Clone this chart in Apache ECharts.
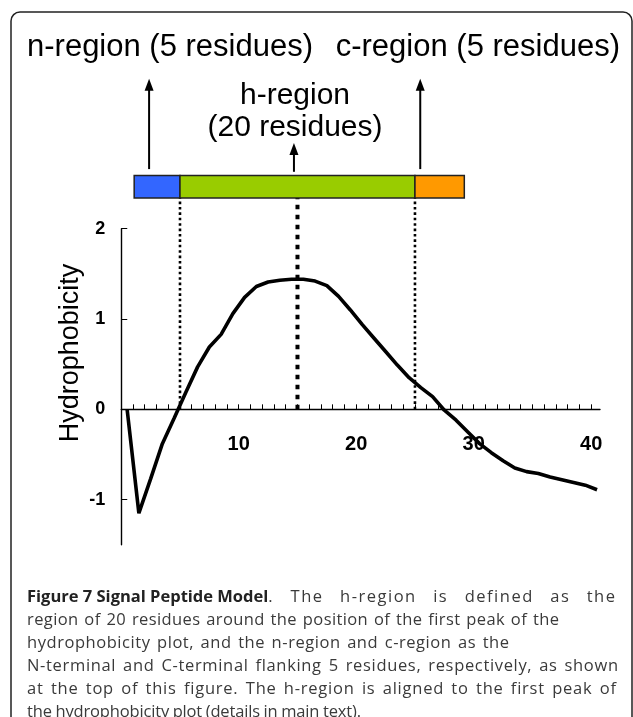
<!DOCTYPE html>
<html><head><meta charset="utf-8">
<script src="https://cdn.jsdelivr.net/npm/echarts@6/dist/echarts.min.js"></script>
<style>html,body{margin:0;padding:0;background:#fff}#c{width:633px;height:717px}</style>
</head><body><div id="c"></div>
<script>
// ---- data ----
const residuePos = [0.5,1.5,2.5,3.5,4.5,5.5,6.5,7.5,8.5,9.5,10.5,11.5,12.5,13.5,14.5,15.5,16.5,17.5,18.5,19.5,20.5,21.5,22.5,23.5,24.5,25.5,26.5,27.5,28.5,29.5,30.5,31.5,32.5,33.5,34.5,35.5,36.5,37.5,38.5,39.5,40.5];
const hydrophobicity = [0.00,-1.15,-0.77,-0.38,-0.10,0.19,0.47,0.69,0.83,1.06,1.24,1.36,1.41,1.43,1.44,1.44,1.42,1.37,1.25,1.10,0.94,0.79,0.64,0.49,0.35,0.24,0.14,-0.01,-0.12,-0.25,-0.38,-0.48,-0.57,-0.65,-0.69,-0.71,-0.75,-0.78,-0.81,-0.84,-0.89];
const xTickValues = [1,2,3,4,5,6,7,8,9,10,11,12,13,14,15,16,17,18,19,20,21,22,23,24,25,26,27,28,29,30,31,32,33,34,35,36,37,38,39,40];
const xLabelValues = [10,20,30,40];
const yTickValues = [-1,0,1,2];
const regionNames = ['n-region','h-region','c-region'];
const regionStart = [1.1,5,25];
const regionEnd = [5,25,29.2];
const boundaryPos = [5,15,25];
const arrowPos = [2.37,14.7,25.45];
const captionTitle = 'Figure 7 Signal Peptide Model';
const captionLines = [
  '. The h-region is defined as the',
  'region of 20 residues around the position of the first peak of the',
  'hydrophobicity plot, and the n-region and c-region as the',
  'N-terminal and C-terminal flanking 5 residues, respectively, as shown',
  'at the top of this figure. The h-region is aligned to the first peak of',
  'the hydrophobicity plot (details in main text).'
];

// ---- styles / layout ----
const regionColors = ['#3366FF','#99CC00','#FF9900'];
const SANS = '"Liberation Sans", Arial, sans-serif';
const CAP = '"Open Sans", "Noto Sans", sans-serif';
const CAP_SIZE = 16.5;
const captionWidths = [588, 532, 482, 591, 589, 334];

const chart = echarts.init(document.getElementById('c'), null, {renderer:'canvas'});
const lineData = residuePos.map((x,i)=>[x, hydrophobicity[i]]);

const boundarySeries = boundaryPos.map((b,i)=>({
  type:'line', clip:false, silent:true, symbol:'none',
  data:[[b,0],[b,2.34]],
  lineStyle: i===1 ? {color:'#000', width:4, type:[4.5,5.5]} : {color:'#000', width:2.6, type:[2.6,2.8]},
  z:3
}));

// caption: characters spread to the measured line widths (justified-looking)
const mctx = document.createElement('canvas').getContext('2d');
function font(bold){ return (bold?'bold ':'') + CAP_SIZE + 'px ' + CAP; }
function mw(t, bold){ mctx.font = font(bold); return mctx.measureText(t).width; }
const captionGraphics = [];
captionLines.forEach((line, li)=>{
  const chars = [];
  if (li === 0) for (const c of captionTitle) chars.push({c:c, b:true});
  for (const c of line) chars.push({c:c, b:false});
  chars.forEach(ch=>{ ch.w = mw(ch.c, ch.b); });
  const natural = chars.reduce((s,ch)=>s+ch.w,0);
  const spaceWeight = li === 0 ? 8 : 4;
  const weights = chars.map((ch,i)=>{
    if (i === chars.length-1 || ch.b) return 0;
    return ch.c === ' ' ? spaceWeight : 1;
  });
  const wsum = weights.reduce((s,v)=>s+v,0);
  const unit = (captionWidths[li] - natural)/wsum;
  let x = 27;
  const y = 597 + li*23;
  chars.forEach((ch,i)=>{
    if (ch.c !== ' ') {
      captionGraphics.push({type:'text', x:x, y:y, silent:true, style:{
        text:ch.c, font:font(ch.b), fill: ch.b ? '#222' : '#3a3a3a', verticalAlign:'middle'}});
    }
    x += ch.w + weights[i]*unit;
  });
});

chart.setOption({
  animation:false,
  grid:{left:121.25, right:33, top:228.7, bottom:172.2},
  xAxis:{type:'value', min:0, max:40.75,
    axisLine:{onZero:true, lineStyle:{color:'#000', width:1.4}},
    axisTick:{show:true, inside:true, length:5, customValues:xTickValues, lineStyle:{color:'#000', width:1}},
    axisLabel:{customValues:xLabelValues, margin:-110.5, fontWeight:'bold', fontSize:20, color:'#000', fontFamily:SANS},
    splitLine:{show:false}},
  yAxis:{type:'value', min:-1.5, max:2,
    axisLine:{show:true, onZero:false, lineStyle:{color:'#000', width:1.4}},
    axisTick:{show:true, inside:true, length:6, customValues:yTickValues, lineStyle:{color:'#000', width:1}},
    axisLabel:{customValues:yTickValues, margin:16, fontWeight:'bold', fontSize:18, color:'#000', fontFamily:SANS},
    splitLine:{show:false}},
  series:[
    {type:'line', data:lineData, symbol:'none', lineStyle:{color:'#000', width:3.6}, z:5},
    ...boundarySeries,
    {type:'custom', clip:false, silent:true, z:4,
      data: regionNames.map((n,i)=>[regionStart[i], regionEnd[i], i]),
      renderItem:(params, api)=>{
        const p0 = api.coord([api.value(0), 2.59]);
        const p1 = api.coord([api.value(1), 2.34]);
        return {type:'rect', shape:{x:p0[0], y:p0[1], width:p1[0]-p0[0], height:p1[1]-p0[1]},
          style:{fill:regionColors[api.value(2)], stroke:'#222', lineWidth:1.5}};
      }},
    {type:'custom', clip:false, silent:true, z:4,
      data: arrowPos.map((x,i)=>[x, i===1 ? 2.63 : 2.66, i===1 ? 2.95 : 3.66]),
      renderItem:(params, api)=>{
        const b = api.coord([api.value(0), api.value(1)]);
        const t = api.coord([api.value(0), api.value(2)]);
        return {type:'group', children:[
          {type:'line', shape:{x1:b[0], y1:b[1], x2:t[0], y2:t[1]+8}, style:{stroke:'#000', lineWidth:2}},
          {type:'polygon', shape:{points:[[t[0],t[1]],[t[0]-4.5,t[1]+12],[t[0]+4.5,t[1]+12]]}, style:{fill:'#000'}}
        ]};
      }}
  ],
  graphic:[
    {type:'rect', shape:{x:11, y:12, width:621, height:740, r:9}, style:{fill:'none', stroke:'#222', lineWidth:1.5}, silent:true},
    {type:'text', x:27, y:47, style:{text:'n-region (5 residues)', font:'31px '+SANS, fill:'#000', verticalAlign:'middle'}},
    {type:'text', x:620, y:47, style:{text:'c-region (5 residues)', font:'31px '+SANS, fill:'#000', verticalAlign:'middle', align:'right'}},
    {type:'text', x:295, y:96, style:{text:'h-region', font:'30px '+SANS, fill:'#000', verticalAlign:'middle', align:'center'}},
    {type:'text', x:295, y:128, style:{text:'(20 residues)', font:'30px '+SANS, fill:'#000', verticalAlign:'middle', align:'center'}},
    {type:'text', x:71, y:353, rotation:Math.PI/2, style:{text:'Hydrophobicity', font:'27px '+SANS, fill:'#000', verticalAlign:'middle', align:'center'}},
    ...captionGraphics
  ]
});
</script></body></html>
